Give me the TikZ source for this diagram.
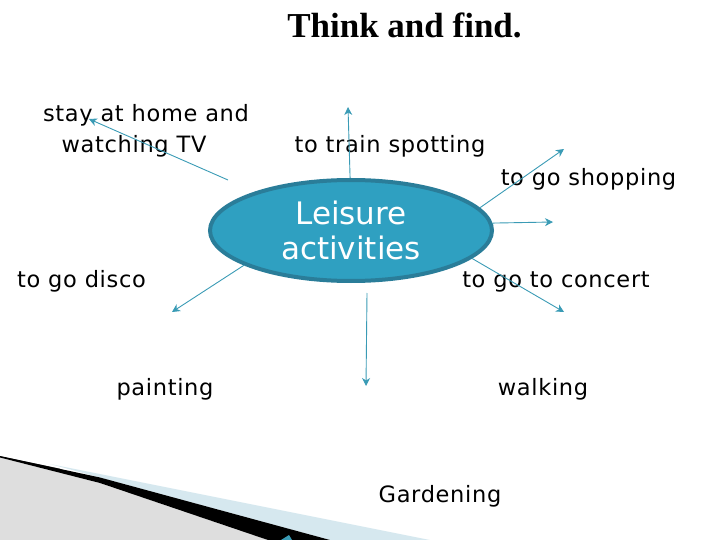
\documentclass[tikz,border=0pt]{standalone}
\usepackage{fontspec}
\setmainfont{DejaVu Sans}
\newfontfamily\lblfont{DejaVu Sans}[LetterSpace=3]
\newfontfamily\titlefont{Liberation Serif}
\usetikzlibrary{shapes.geometric,arrows.meta}
\definecolor{ellfill}{HTML}{2FA0C1}
\definecolor{ellline}{HTML}{2A7D99}
\definecolor{arrowc}{HTML}{3A9BB5}
\definecolor{lightband}{HTML}{D6E8EF}
\definecolor{hatchgray}{HTML}{DEDEDE}
\begin{document}
\begin{tikzpicture}[x=1pt,y=-1pt,
  lbl/.style={anchor=base,inner sep=0pt,font=\lblfont\fontsize{22.5}{27}\selectfont},
  conn/.style={draw=arrowc,line width=0.9pt,-{Stealth[length=8pt,width=8pt,inset=2.5pt]}}]
\useasboundingbox (0,0) rectangle (720,540);
% bottom-left decoration
\fill[lightband] (50,464) -- (430,540) -- (330,540) -- cycle;
\fill[hatchgray] (0,457.5) -- (100,483) -- (268,540) -- (0,540) -- cycle;
\draw[black!70,line width=0.6pt] (0,456.5) -- (60,469);
\fill[black] (0,456) -- (100,477.5) -- (330,540) -- (268,540) -- (100,483) -- (0,457.5) -- cycle;
\fill[arrowc] (281,540) -- (289,535) -- (292,540) -- cycle;
% title
\node[anchor=base,inner sep=0pt,font=\titlefont\bfseries\fontsize{35}{40}\selectfont] (title) at (404.5,38) {Think and find.};
% centre
\node[ellipse,fill=ellfill,draw=ellline,line width=4pt,minimum width=282pt,minimum height=101pt,
  text=white,align=center,inner sep=0pt,font=\fontsize{31}{35}\selectfont] (c) at (351,230.5) {Leisure\\activities};
% labels
\node[lbl] (home1) at (146,122) {stay at home and};
\node[lbl] (home2) at (134,153) {watching TV};
\node[lbl] (train) at (390,153) {to train spotting};
\node[lbl] (shop) at (588.5,186) {to go shopping};
\node[lbl] (disco) at (81.5,287) {to go disco};
\node[lbl] (concert) at (556,287) {to go to concert};
\node[lbl] (paint) at (165,395) {painting};
\node[lbl] (walk) at (543,395) {walking};
\node[lbl] (garden) at (440,502) {Gardening};
% arrow ends
\coordinate (hs) at (228,180);
\coordinate (ht) at (89,119);
\coordinate (ut) at (348,107);
\coordinate (st) at (564,149);
\coordinate (rt) at (553,222);
\coordinate (drt) at (564,312);
\coordinate (dlt) at (172,312);
\coordinate (ds) at (367,293);
\coordinate (dt) at (366,386);
\draw[conn] (hs) -- (ht);
\draw[conn] (c.91) -- (ut);
\draw[conn] (c.10) -- (st);
\draw[conn] (c.3) -- (rt);
\draw[conn] (c.347) -- (drt);
\draw[conn] (c.198) -- (dlt);
\draw[conn] (ds) -- (dt);
\end{tikzpicture}
\end{document}
